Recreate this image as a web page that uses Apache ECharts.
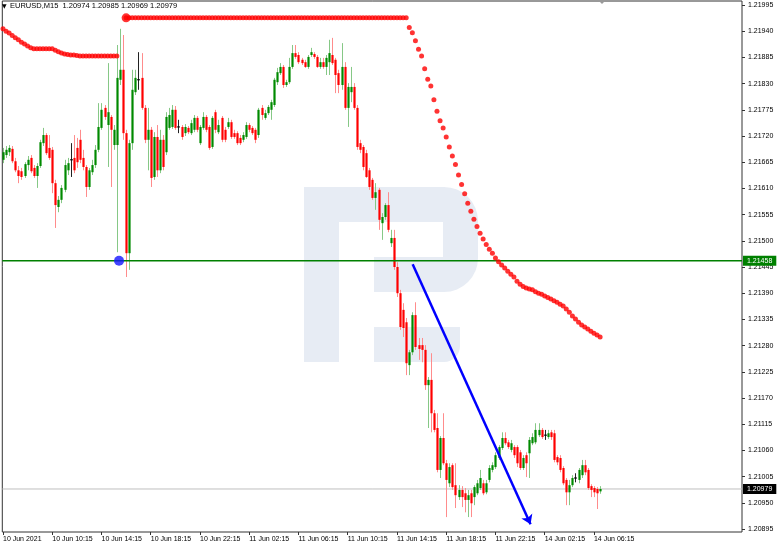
<!DOCTYPE html>
<html>
<head>
<meta charset="utf-8">
<script src="https://cdn.jsdelivr.net/npm/echarts/dist/echarts.min.js"></script>
<style>html,body{margin:0;padding:0;background:#fff}#c{width:782px;height:550px}</style>
</head>
<body>
<div id="c"></div>
<script>
// ---- data (EURUSD M15) ----
const symbolTitle = 'EURUSD,M15  1.20974 1.20985 1.20969 1.20979';
const tickIdx = [0,16,32,48,64,80,96,112,128,144,160,176,192];
const tickLabels = ['10 Jun 2021','10 Jun 10:15','10 Jun 14:15','10 Jun 18:15','10 Jun 22:15','11 Jun 02:15','11 Jun 06:15','11 Jun 10:15','11 Jun 14:15','11 Jun 18:15','11 Jun 22:15','14 Jun 02:15','14 Jun 06:15'];
const priceTicks = [1.21995,1.21940,1.21885,1.21830,1.21775,1.21720,1.21665,1.21610,1.21555,1.21500,1.21445,1.21390,1.21335,1.21280,1.21225,1.21170,1.21115,1.21060,1.21005,1.20950,1.20895];

const opens = [
1.21670,1.21680,1.21686,1.21693,1.21667,1.21648,1.21646,1.21636,1.21659,1.21674,
1.21653,1.21636,1.21657,1.21705,1.21722,1.21695,1.21691,1.21621,1.21571,1.21586,
1.21607,1.21648,1.21670,1.21674,1.21695,1.21712,1.21674,1.21655,1.21613,1.21644,
1.21659,1.21691,1.21737,1.21779,1.21743,1.21760,1.21701,1.21701,1.21838,1.21859,
1.21726,1.21474,1.21705,1.21812,1.21838,1.21842,1.21779,1.21712,1.21733,1.21634,
1.21718,1.21648,1.21712,1.21686,1.21737,1.21739,1.21775,1.21739,1.21739,1.21726,
1.21737,1.21726,1.21733,1.21758,1.21705,1.21737,1.21760,1.21739,1.21697,1.21770,
1.21728,1.21758,1.21733,1.21739,1.21749,1.21726,1.21726,1.21716,1.21712,1.21718,
1.21743,1.21737,1.21733,1.21722,1.21779,1.21758,1.21768,1.21775,1.21785,1.21833,
1.21852,1.21865,1.21827,1.21833,1.21865,1.21894,1.21890,1.21880,1.21875,1.21865,
1.21890,1.21892,1.21886,1.21865,1.21875,1.21865,1.21875,1.21890,1.21880,1.21852,
1.21827,1.21865,1.21779,1.21812,1.21823,1.21779,1.21705,1.21697,1.21684,1.21648,
1.21628,1.21590,1.21607,1.21537,1.21550,1.21575,1.21495,1.21506,1.21445,1.21390,
1.21355,1.21329,1.21239,1.21266,1.21344,1.21281,1.21281,1.21271,1.21197,1.21208,
1.21138,1.21107,1.21019,1.21086,1.21033,1.20991,1.21029,1.20987,1.20962,1.20977,
1.20970,1.20956,1.20970,1.20962,1.20970,1.20981,1.20991,1.20972,1.20998,1.21019,
1.21025,1.21044,1.21065,1.21086,1.21077,1.21061,1.21067,1.21067,1.21056,1.21023,
1.21050,1.21054,1.21075,1.21077,1.21092,1.21103,1.21092,1.21088,1.21098,1.21096,
1.21046,1.21044,1.21023,1.20998,1.20972,1.20987,1.21002,1.20998,1.21008,1.21029,
1.21019,1.20985,1.20981,1.20979,1.20974];

const highs = [
1.21695,1.21699,1.21701,1.21699,1.21674,1.21657,1.21653,1.21665,1.21678,1.21680,
1.21659,1.21663,1.21712,1.21737,1.21726,1.21722,1.21697,1.21628,1.21594,1.21617,
1.21670,1.21674,1.21705,1.21722,1.21716,1.21733,1.21691,1.21659,1.21653,1.21670,
1.21701,1.21789,1.21789,1.21785,1.21873,1.21764,1.21743,1.21911,1.21945,1.21932,
1.21733,1.21712,1.21859,1.21859,1.21896,1.21894,1.21785,1.21779,1.21739,1.21728,
1.21743,1.21733,1.21722,1.21770,1.21779,1.21785,1.21783,1.21754,1.21743,1.21745,
1.21741,1.21754,1.21764,1.21762,1.21743,1.21770,1.21764,1.21743,1.21762,1.21775,
1.21754,1.21762,1.21739,1.21758,1.21754,1.21733,1.21730,1.21722,1.21728,1.21749,
1.21747,1.21741,1.21737,1.21779,1.21785,1.21775,1.21785,1.21796,1.21842,1.21863,
1.21873,1.21869,1.21838,1.21884,1.21911,1.21911,1.21896,1.21884,1.21880,1.21890,
1.21905,1.21896,1.21890,1.21884,1.21884,1.21890,1.21922,1.21926,1.21884,1.21859,
1.21915,1.21875,1.21831,1.21865,1.21831,1.21785,1.21712,1.21701,1.21691,1.21653,
1.21632,1.21621,1.21611,1.21558,1.21579,1.21602,1.21523,1.21523,1.21455,1.21397,
1.21369,1.21338,1.21271,1.21350,1.21371,1.21296,1.21296,1.21281,1.21214,1.21264,
1.21145,1.21138,1.21090,1.21138,1.21040,1.21033,1.21033,1.21033,1.20987,1.20985,
1.20981,1.20977,1.20977,1.20987,1.20998,1.21019,1.20998,1.20998,1.21029,1.21035,
1.21056,1.21071,1.21098,1.21098,1.21082,1.21082,1.21071,1.21071,1.21061,1.21050,
1.21056,1.21088,1.21096,1.21117,1.21117,1.21107,1.21103,1.21103,1.21103,1.21103,
1.21050,1.21050,1.21027,1.21002,1.20998,1.21008,1.21012,1.21023,1.21040,1.21040,
1.21023,1.20989,1.20985,1.20983,1.20985];

const lows = [
1.21663,1.21674,1.21678,1.21663,1.21644,1.21621,1.21628,1.21632,1.21648,1.21642,
1.21632,1.21611,1.21653,1.21699,1.21680,1.21670,1.21600,1.21527,1.21560,1.21579,
1.21602,1.21638,1.21634,1.21642,1.21653,1.21663,1.21648,1.21592,1.21607,1.21638,
1.21653,1.21686,1.21733,1.21754,1.21655,1.21613,1.21691,1.21476,1.21827,1.21712,
1.21424,1.21439,1.21691,1.21806,1.21817,1.21775,1.21705,1.21648,1.21613,1.21628,
1.21634,1.21642,1.21648,1.21680,1.21733,1.21735,1.21733,1.21726,1.21712,1.21720,
1.21724,1.21722,1.21728,1.21728,1.21701,1.21733,1.21728,1.21691,1.21693,1.21726,
1.21724,1.21707,1.21707,1.21735,1.21714,1.21714,1.21701,1.21701,1.21707,1.21714,
1.21728,1.21722,1.21705,1.21716,1.21754,1.21754,1.21764,1.21754,1.21781,1.21827,
1.21848,1.21821,1.21823,1.21829,1.21861,1.21882,1.21871,1.21869,1.21863,1.21861,
1.21886,1.21882,1.21863,1.21861,1.21861,1.21848,1.21848,1.21869,1.21810,1.21810,
1.21817,1.21775,1.21739,1.21791,1.21775,1.21691,1.21684,1.21648,1.21632,1.21607,
1.21586,1.21565,1.21523,1.21502,1.21544,1.21518,1.21487,1.21439,1.21382,1.21313,
1.21298,1.21218,1.21218,1.21260,1.21271,1.21250,1.21245,1.21187,1.21107,1.21098,
1.21098,1.21014,1.21002,1.21029,1.20920,1.20983,1.20977,1.20939,1.20956,1.20941,
1.20930,1.20920,1.20920,1.20945,1.20966,1.20977,1.20966,1.20968,1.20993,1.21014,
1.21021,1.21040,1.21061,1.21071,1.21063,1.21056,1.21044,1.21025,1.21019,1.21019,
1.21004,1.21002,1.21071,1.21073,1.21088,1.21084,1.21082,1.21084,1.21082,1.21035,
1.21029,1.21014,1.20987,1.20945,1.20945,1.20983,1.20993,1.20991,1.21002,1.21008,
1.20977,1.20962,1.20962,1.20937,1.20969];

const closes = [
1.21686,1.21691,1.21695,1.21667,1.21648,1.21636,1.21634,1.21661,1.21670,1.21646,
1.21636,1.21657,1.21707,1.21722,1.21684,1.21674,1.21621,1.21575,1.21586,1.21611,
1.21659,1.21663,1.21670,1.21648,1.21665,1.21670,1.21655,1.21613,1.21648,1.21659,
1.21691,1.21739,1.21775,1.21760,1.21770,1.21733,1.21733,1.21842,1.21859,1.21726,
1.21474,1.21705,1.21817,1.21842,1.21838,1.21779,1.21712,1.21733,1.21632,1.21718,
1.21648,1.21712,1.21655,1.21760,1.21764,1.21775,1.21737,1.21739,1.21718,1.21739,
1.21728,1.21747,1.21758,1.21733,1.21739,1.21760,1.21733,1.21695,1.21758,1.21733,
1.21743,1.21712,1.21712,1.21749,1.21718,1.21718,1.21705,1.21705,1.21722,1.21743,
1.21733,1.21726,1.21712,1.21775,1.21764,1.21768,1.21781,1.21791,1.21838,1.21854,
1.21865,1.21827,1.21833,1.21865,1.21894,1.21886,1.21875,1.21873,1.21865,1.21886,
1.21896,1.21886,1.21865,1.21875,1.21865,1.21884,1.21894,1.21873,1.21848,1.21827,
1.21865,1.21779,1.21823,1.21823,1.21779,1.21697,1.21691,1.21655,1.21634,1.21613,
1.21590,1.21602,1.21544,1.21550,1.21575,1.21523,1.21506,1.21445,1.21390,1.21319,
1.21317,1.21243,1.21266,1.21344,1.21277,1.21273,1.21271,1.21197,1.21208,1.21138,
1.21103,1.21019,1.21086,1.21033,1.20998,1.21025,1.20983,1.20966,1.20977,1.20962,
1.20956,1.20966,1.20949,1.20983,1.20991,1.21002,1.20970,1.20991,1.21023,1.21029,
1.21050,1.21067,1.21086,1.21075,1.21067,1.21075,1.21050,1.21033,1.21023,1.21044,
1.21033,1.21082,1.21088,1.21103,1.21103,1.21088,1.21092,1.21096,1.21088,1.21040,
1.21035,1.21019,1.20991,1.20972,1.20987,1.21002,1.21002,1.21019,1.21029,1.21014,
1.20981,1.20977,1.20972,1.20970,1.20979];

// trailing-stop indicator: first run starts at bar 0, second run starts at bar 40
const stopAStart = 0;
const stopA = [
1.21945,1.21940,1.21936,1.21931,1.21926,1.21922,1.21917,1.21913,1.21909,1.21905,
1.21903,1.21903,1.21903,1.21903,1.21903,1.21903,1.21903,1.21900,1.21897,1.21894,
1.21892,1.21891,1.21890,1.21890,1.21889,1.21888,1.21888,1.21888,1.21888,1.21888,
1.21888,1.21888,1.21888,1.21888,1.21888,1.21888,1.21888,1.21888];
const stopBStart = 40;
const stopB = [
1.21968,1.21968,1.21968,1.21968,1.21968,1.21968,1.21968,1.21968,1.21968,1.21968,
1.21968,1.21968,1.21968,1.21968,1.21968,1.21968,1.21968,1.21968,1.21968,1.21968,
1.21968,1.21968,1.21968,1.21968,1.21968,1.21968,1.21968,1.21968,1.21968,1.21968,
1.21968,1.21968,1.21968,1.21968,1.21968,1.21968,1.21968,1.21968,1.21968,1.21968,
1.21968,1.21968,1.21968,1.21968,1.21968,1.21968,1.21968,1.21968,1.21968,1.21968,
1.21968,1.21968,1.21968,1.21968,1.21968,1.21968,1.21968,1.21968,1.21968,1.21968,
1.21968,1.21968,1.21968,1.21968,1.21968,1.21968,1.21968,1.21968,1.21968,1.21968,
1.21968,1.21968,1.21968,1.21968,1.21968,1.21968,1.21968,1.21968,1.21968,1.21968,
1.21968,1.21968,1.21968,1.21968,1.21968,1.21968,1.21968,1.21968,1.21968,1.21968,
1.21968,1.21968,
1.21948,1.21937,1.21920,1.21902,1.21888,1.21861,1.21839,1.21825,1.21796,1.21772,
1.21752,1.21737,1.21718,1.21697,1.21678,1.21660,1.21638,1.21618,1.21599,1.21579,
1.21562,1.21545,1.21530,1.21516,1.21504,1.21492,1.21482,1.21474,1.21464,1.21456,
1.21449,1.21443,1.21436,1.21430,1.21424,1.21415,1.21409,1.21404,1.21401,1.21399,
1.21397,1.21393,1.21390,1.21388,1.21384,1.21381,1.21378,1.21374,1.21371,1.21367,
1.21363,1.21357,1.21350,1.21342,1.21336,1.21329,1.21323,1.21319,1.21315,1.21310,
1.21306,1.21302,1.21298];

const levelLine = 1.21458;      // green horizontal line
const bidLine = 1.20979;        // current bid
const touchPoint = [37.7, 1.21458];
const arrowStart = [133.1, 1.21451];
const arrowEnd = [171.4, 1.20905];

// ---- chart ----
const X_MIN = -0.227, X_MAX = 240.1;
const FONT = "'Liberation Sans', Arial, sans-serif";
const chart = echarts.init(document.getElementById('c'), null, {renderer: 'canvas'});

const candleData = opens.map((o, i) => [i, o, closes[i], lows[i], highs[i]]);
const stopAData = stopA.map((v, k) => [stopAStart + k, v]);
const stopBData = stopB.map((v, k) => [stopBStart + k, v]);

function renderCandle(params, api) {
  const i = api.value(0), o = api.value(1), c = api.value(2), l = api.value(3), h = api.value(4);
  const pO = api.coord([i, o]), pC = api.coord([i, c]);
  const pL = api.coord([i, l]), pH = api.coord([i, h]);
  const xr = Math.round(pO[0]) + 0.5;
  const up = c > o, doji = c === o;
  const bodyCol = up ? '#008a00' : '#ff0000';
  const wickCol = doji ? '#222' : (up ? '#86c886' : '#ff8c8c');
  const top = Math.min(pO[1], pC[1]), bot = Math.max(pO[1], pC[1]);
  const children = [{type: 'line', shape: {x1: xr, y1: pH[1], x2: xr, y2: pL[1]}, style: {stroke: wickCol, lineWidth: 1}}];
  if (doji) {
    children.push({type: 'line', shape: {x1: xr - 1.5, y1: top, x2: xr + 1.5, y2: top}, style: {stroke: '#000', lineWidth: 1}});
  } else {
    children.push({type: 'rect', shape: {x: xr - 1.1, y: top, width: 2.2, height: Math.max(1, bot - top)}, style: {fill: bodyCol}});
  }
  return {type: 'group', children};
}

function hLine(level, color, width, boxColor, z) {
  return {
    type: 'line', data: [[X_MIN, level], [X_MAX, level]], symbol: 'none', silent: true, z: z,
    lineStyle: {color: color, width: width, type: 'solid'},
    endLabel: {show: true, distance: 1, formatter: () => level.toFixed(5), backgroundColor: boxColor,
      color: '#fff', fontSize: 7, fontFamily: FONT, padding: [2, 4, 1, 4]}
  };
}

const wm = '#e7ecf4';
const option = {
  backgroundColor: '#fff',
  animation: false,
  grid: {left: 1, top: 1, right: 40, bottom: 18, show: true, borderColor: '#333', borderWidth: 1, backgroundColor: 'transparent'},
  xAxis: {
    type: 'value', min: X_MIN, max: X_MAX,
    axisLine: {show: false, onZero: false},
    splitLine: {show: false},
    axisTick: {show: true, customValues: tickIdx, length: 3, lineStyle: {color: '#333'}},
    axisLabel: {customValues: tickIdx, formatter: v => tickLabels[tickIdx.indexOf(v)] || '', align: 'left', margin: 4,
      fontSize: 7, fontFamily: FONT, color: '#000'}
  },
  yAxis: {
    type: 'value', position: 'right', min: 1.208887, max: 1.220034,
    axisLine: {show: false, onZero: false},
    splitLine: {show: false},
    axisTick: {show: true, customValues: priceTicks, length: 3, lineStyle: {color: '#333'}},
    axisLabel: {customValues: priceTicks, formatter: v => v.toFixed(5), margin: 6, fontSize: 7, fontFamily: FONT, color: '#000'}
  },
  graphic: [
    {type: 'group', z: 0, silent: true, children: [
      {type: 'rect', shape: {x: 304, y: 187, width: 35, height: 175}, style: {fill: wm}},
      {type: 'rect', shape: {x: 339, y: 187, width: 106, height: 35}, style: {fill: wm}},
      {type: 'rect', shape: {x: 443, y: 187, width: 35, height: 105, r: [0, 34, 34, 0]}, style: {fill: wm}},
      {type: 'rect', shape: {x: 374, y: 257, width: 71, height: 35}, style: {fill: wm}},
      {type: 'rect', shape: {x: 374, y: 327, width: 86, height: 35, r: [0, 0, 16, 0]}, style: {fill: wm}}
    ]},
    {type: 'text', left: 2, top: 3, z: 10, style: {text: '▼', fontSize: 6, fontFamily: 'DejaVu Sans', fill: '#000'}},
    {type: 'text', left: 10, top: 2, z: 10, style: {text: symbolTitle, fontSize: 7.5, fontFamily: FONT, fill: '#000'}},
    {type: 'polygon', z: 10, shape: {points: [[598, 0], [606, 0], [602, 4]]}, style: {fill: '#999'}}
  ],
  series: [
    hLine(bidLine, '#c0c0c0', 1, '#000', 2),
    {
      type: 'custom', name: 'EURUSD', renderItem: renderCandle, data: candleData,
      encode: {x: 0, y: [1, 2, 3, 4]}, clip: true, z: 3
    },
    hLine(levelLine, '#008000', 1.5, '#008000', 4),
    {type: 'scatter', data: stopAData, symbolSize: 5, itemStyle: {color: '#ff0000'}, z: 5, silent: true},
    {type: 'scatter', data: stopBData, symbolSize: 5, itemStyle: {color: '#ff0000'}, z: 5, silent: true},
    {type: 'scatter', data: [stopBData[0]], symbolSize: 9, itemStyle: {color: '#ff0000'}, z: 5, silent: true},
    {type: 'scatter', data: [touchPoint], symbolSize: 10, itemStyle: {color: '#1414ff'}, z: 6, silent: true},
    {
      type: 'lines', coordinateSystem: 'cartesian2d', z: 6, silent: true,
      symbol: ['none', 'arrow'], symbolSize: 9,
      lineStyle: {color: '#0000ff', width: 2.5, opacity: 1, curveness: 0},
      data: [{coords: [arrowStart, arrowEnd]}]
    }
  ]
};
chart.setOption(option);
</script>
</body>
</html>
